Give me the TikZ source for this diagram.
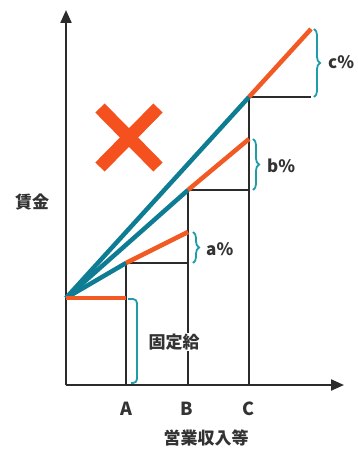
\documentclass[tikz,border=0pt]{standalone}
\usepackage{fontspec}
\setmainfont{Noto Sans CJK JP}
\usetikzlibrary{arrows.meta,decorations.pathreplacing}
\definecolor{axisc}{HTML}{2B2B2B}
\definecolor{tealc}{HTML}{0E7D93}
\definecolor{bracec}{HTML}{1F9CAA}
\definecolor{orangec}{HTML}{F15A22}
\definecolor{crossc}{HTML}{F4511E}
\definecolor{textc}{HTML}{333333}
\tikzset{
  axis/.style={line width=2.2pt,draw=axisc,-{Triangle[length=13pt,width=11pt]}},
  guide/.style={line width=2pt,draw=axisc},
  tealline/.style={line width=4.5pt,draw=tealc},
  orangeline/.style={line width=4.5pt,draw=orangec},
  bracesty/.style={line width=1.8pt,draw=bracec,decorate,decoration={brace,amplitude=6pt}},
  lbl/.style={text=textc,font=\fontsize{17}{18}\selectfont\bfseries,inner sep=0pt},
  tick/.style={text=textc,font=\fontsize{18}{19}\selectfont\bfseries,inner sep=0pt},
}
\begin{document}
\begin{tikzpicture}[x=1pt,y=-1pt]
\useasboundingbox (0,0) rectangle (357,449);
% key points
\coordinate (O) at (66,385);
\coordinate (base) at (66,298);
\coordinate (Ax) at (126,385);
\coordinate (Bx) at (188,385);
\coordinate (Cx) at (249,385);
\coordinate (Af) at (126,298);
\coordinate (PA) at (126,263);
\coordinate (QA) at (188,232);
\coordinate (HA) at (188,263);
\coordinate (PB) at (188,190);
\coordinate (QB) at (249,139);
\coordinate (HB) at (249,190);
\coordinate (PC) at (249,97);
\coordinate (QC) at (311,29);
\coordinate (HC) at (311,97);
\coordinate (ytop) at (66,10);
\coordinate (xend) at (344,385);
% guides
\draw[guide] (Ax) -- (PA) -- (HA);
\draw[guide] (Bx) -- (PB) -- (HB);
\draw[guide] (Cx) -- (PC) -- (HC);
% axes
\draw[axis] (O) -- (ytop);
\draw[axis] (O) -- (xend);
% teal lines
\draw[tealline] (base) -- (PA);
\draw[tealline] (base) -- (PB);
\draw[tealline] (base) -- (PC);
% orange lines
\draw[orangeline] (base) -- (Af);
\draw[orangeline] (PA) -- (QA);
\draw[orangeline] (PB) -- (QB);
\draw[orangeline] (PC) -- (QC);
% fixed salary bracket
\draw[line width=1.8pt,draw=bracec,rounded corners=4pt] (128,299) -- (137,299) -- (137,383) -- (131,383);
\node[lbl,fill=white,inner sep=1pt] (kotei) at (174,342) {固定給};
% braces
\draw[bracesty] (193,232) -- (193,263);
\node[lbl,anchor=west] (pa) at (206,249) {a\%};
\draw[bracesty] (253,139) -- (253,190);
\node[lbl,anchor=west] (pb) at (267,166) {b\%};
\draw[bracesty] (314,29) -- (314,97);
\node[lbl,anchor=west] (pc) at (328,62) {c\%};
% labels
\node[tick] (la) at (126,409) {A};
\node[tick] (lb) at (187,409) {B};
\node[tick] (lc) at (248,409) {C};
\node[lbl] (xl) at (206,438) {営業収入等};
\node[lbl] (yl) at (32,202) {賃金};
% cross
\draw[line width=13pt,draw=crossc] (100,108) -- (158,167);
\draw[line width=13pt,draw=crossc] (158,108) -- (100,167);
\end{tikzpicture}
\end{document}
